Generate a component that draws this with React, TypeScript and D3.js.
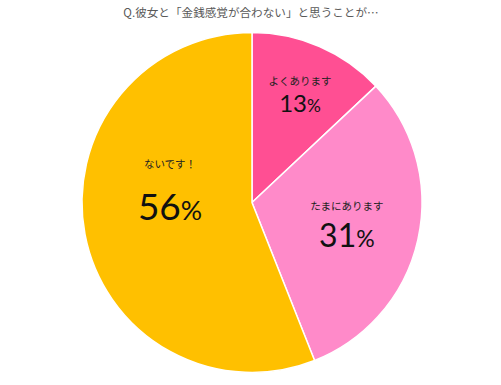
import React from "react";
import * as d3 from "d3";

const title = "Q.彼女と「金銭感覚が合わない」と思うことが…";
const categories = ["よくあります", "たまにあります", "ないです！"];
const values = [13, 31, 56];
const colors = ["#FF4F93", "#FF8AC9", "#FFC000"];
const labelRadiusFactor = [0.6, 0.617, 0.494];
const labelDx = [7.5, -7.5, 0.5];
const labelDy = [3, 21.6, 1.8];
const labelGap = [27, 37, 52];
const numSize = [24, 32, 37];

export default function App() {
  const W = 501, H = 385;
  const cx = 252, cy = 202.5, r = 170;
  const pie = d3.pie<number>().sort(null).value((d) => d);
  const arcs = pie(values);
  const arc = d3.arc<d3.PieArcDatum<number>>().innerRadius(0).outerRadius(r);
  return (
    <svg width={W} height={H} style={{ position: "absolute", left: 0, top: 0, background: "#fff" }}>
      <text x={251} y={17} textAnchor="middle" fontFamily="'Noto Sans CJK JP', sans-serif" fontSize={11.6} fill="#595959">
        {title}
      </text>
      <g transform={`translate(${cx},${cy})`}>
        {arcs.map((a, i) => (
          <path key={i} d={arc(a) || ""} fill={colors[i]} stroke="#fff" strokeWidth={1.5} />
        ))}
        {arcs.map((a, i) => {
          const lr = r * labelRadiusFactor[i];
          const [x, y] = d3.arc<d3.PieArcDatum<number>>().innerRadius(lr).outerRadius(lr).centroid(a);
          const fs = numSize[i];
          return (
            <g key={"l" + i} transform={`translate(${x + labelDx[i]},${y + labelDy[i]})`}>
              <text y={-labelGap[i]} textAnchor="middle" fontFamily="'Noto Sans CJK JP', sans-serif" fontSize={10.5} fill="#222">
                {categories[i]}
              </text>
              <text y={0} textAnchor="middle" fontFamily="Lato, 'Noto Sans', sans-serif" fontSize={fs} fill="#111">
                {values[i]}
                <tspan fontSize={fs * 0.72}>%</tspan>
              </text>
            </g>
          );
        })}
      </g>
    </svg>
  );
}
